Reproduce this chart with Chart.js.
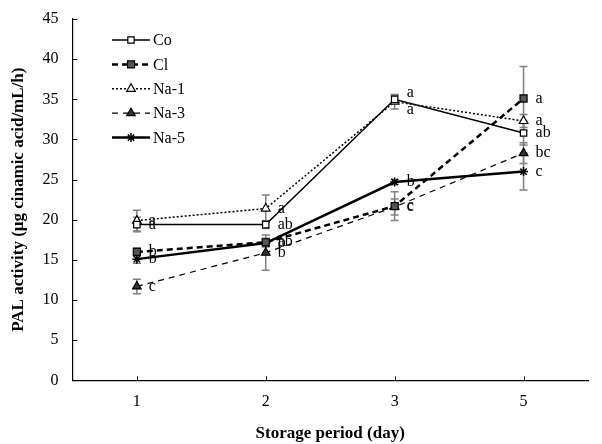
<!DOCTYPE html>
<html>
<head>
<meta charset="utf-8">
<script src="https://cdn.jsdelivr.net/npm/chart.js@4.4.1/dist/chart.umd.min.js"></script>
<style>
  html, body { margin: 0; padding: 0; background: #fff; }
  #wrap { width: 602px; height: 444px; }
</style>
</head>
<body>
<div id="wrap"><canvas id="palChart"></canvas></div>
<script>
// Storage days (categories)
const days = ['1', '2', '3', '5'];

// Mean PAL activity per treatment
const coValues  = [19.4, 19.4, 35.0, 30.8];
const clValues  = [16.0, 17.2, 21.7, 35.1];
const na1Values = [19.9, 21.4, 34.7, 32.3];
const na3Values = [11.7, 15.9, 21.6, 28.3];
const na5Values = [15.1, 17.1, 24.7, 26.0];

// Standard deviations (error bars)
const coErr  = [0.9, 0.5, 0.5, 1.5];
const clErr  = [0.5, 0.5, 1.8, 4.0];
const na1Err = [1.3, 1.7, 0.9, 0.8];
const na3Err = [0.9, 2.2, 1.0, 1.3];
const na5Err = [0.5, 0.5, 0.3, 2.3];

// Significance letters
const coLetters  = ['a', 'ab', 'a', 'ab'];
const clLetters  = ['b', 'ab', 'c', 'a'];
const na1Letters = ['a', 'a', 'a', 'a'];
const na3Letters = ['c', 'b', 'c', 'bc'];
const na5Letters = ['b', 'b', 'b', 'c'];

const yTicks = [0, 5, 10, 15, 20, 25, 30, 35, 40, 45];

const serif = "'Liberation Serif', 'Times New Roman', serif";

// Error bars, letters, inward ticks and legend
const extrasPlugin = {
  id: 'extras',
  beforeDatasetsDraw(chart) {
    const ctx = chart.ctx;
    ctx.save();
    ctx.strokeStyle = '#808080';
    ctx.lineWidth = 1.5;
    chart.data.datasets.forEach((ds, i) => {
      const meta = chart.getDatasetMeta(i);
      meta.data.forEach((pt, j) => {
        const y = chart.scales.y;
        const top = y.getPixelForValue(ds.data[j] + ds.errors[j]);
        const bot = y.getPixelForValue(ds.data[j] - ds.errors[j]);
        ctx.beginPath();
        ctx.moveTo(pt.x, top); ctx.lineTo(pt.x, bot);
        ctx.moveTo(pt.x - 4, top); ctx.lineTo(pt.x + 4, top);
        ctx.moveTo(pt.x - 4, bot); ctx.lineTo(pt.x + 4, bot);
        ctx.stroke();
      });
    });
    ctx.restore();
  },
  afterDatasetsDraw(chart) {
    const ctx = chart.ctx;
    const area = chart.chartArea;
    ctx.save();
    ctx.fillStyle = '#000';
    ctx.font = '16px ' + serif;
    ctx.textAlign = 'left';
    ctx.textBaseline = 'middle';
    chart.data.datasets.forEach((ds, i) => {
      const meta = chart.getDatasetMeta(i);
      meta.data.forEach((pt, j) => {
        const dy = ds.labelDy ? ds.labelDy[j] : 0;
        ctx.fillText(ds.letters[j], pt.x + 12, pt.y + dy);
      });
    });
    // inward tick marks
    ctx.strokeStyle = '#000';
    ctx.lineWidth = 1;
    ctx.beginPath();
    chart.scales.y.ticks.forEach((t, k) => {
      const py = Math.round(chart.scales.y.getPixelForTick(k)) + 0.5;
      ctx.moveTo(area.left, py); ctx.lineTo(area.left + 5, py);
    });
    chart.scales.x.ticks.forEach((t, k) => {
      const px = Math.round(chart.scales.x.getPixelForTick(k)) + 0.5;
      ctx.moveTo(px, area.bottom); ctx.lineTo(px, area.bottom - 4);
    });
    ctx.stroke();

    // legend
    chart.data.datasets.forEach((ds, i) => {
      const ly = 40 + i * 24.4;
      ctx.save();
      ctx.strokeStyle = '#000';
      ctx.lineWidth = ds.borderWidth;
      ctx.setLineDash(ds.borderDash || []);
      ctx.beginPath();
      ctx.moveTo(112, ly); ctx.lineTo(150, ly);
      ctx.stroke();
      ctx.restore();
      ctx.save();
      ctx.fillStyle = ds.pointBackgroundColor;
      ctx.strokeStyle = '#000';
      ctx.lineWidth = ds.pointBorderWidth;
      Chart.helpers.drawPoint(ctx, {
        pointStyle: ds.pointStyle,
        radius: ds.pointRadius,
        borderWidth: ds.pointBorderWidth
      }, 131, ly);
      ctx.restore();
      ctx.fillStyle = '#000';
      ctx.fillText(ds.label, 153, ly + 1);
    });
    ctx.restore();
  }
};

const palData = {
  labels: days,
  datasets: [{
    label: 'Co',
    data: coValues,
    errors: coErr,
    letters: coLetters,
    labelDy: [0, 0, -7, 0],
    borderColor: '#000',
    borderWidth: 1.5,
    pointStyle: 'rect',
    pointRadius: 4.5,
    pointBackgroundColor: '#fff',
    pointBorderColor: '#000',
    pointBorderWidth: 1.2
  }, {
    label: 'Cl',
    data: clValues,
    errors: clErr,
    letters: clLetters,
    borderColor: '#000',
    borderWidth: 2.5,
    borderDash: [6, 4],
    pointStyle: 'rect',
    pointRadius: 5,
    pointBackgroundColor: '#555',
    pointBorderColor: '#000',
    pointBorderWidth: 1.2
  }, {
    label: 'Na-1',
    data: na1Values,
    errors: na1Err,
    letters: na1Letters,
    labelDy: [0, 0, 8, 0],
    borderColor: '#000',
    borderWidth: 1.5,
    borderDash: [2, 2],
    pointStyle: 'triangle',
    pointRadius: 5,
    pointBackgroundColor: '#fff',
    pointBorderColor: '#000',
    pointBorderWidth: 1.2
  }, {
    label: 'Na-3',
    data: na3Values,
    errors: na3Err,
    letters: na3Letters,
    borderColor: '#000',
    borderWidth: 1.2,
    borderDash: [6, 5],
    pointStyle: 'triangle',
    pointRadius: 5,
    pointBackgroundColor: '#333',
    pointBorderColor: '#000',
    pointBorderWidth: 1.2
  }, {
    label: 'Na-5',
    data: na5Values,
    errors: na5Err,
    letters: na5Letters,
    borderColor: '#000',
    borderWidth: 2.5,
    pointStyle: 'star',
    pointRadius: 4.5,
    pointBackgroundColor: '#000',
    pointBorderColor: '#000',
    pointBorderWidth: 1.5
  }]
};

const palConfig = {
  type: 'line',
  data: palData,
  plugins: [extrasPlugin],
  options: {
    responsive: true,
    maintainAspectRatio: false,
    animation: false,
    layout: { padding: { top: 19, right: 14, left: 8, bottom: 0 } },
    plugins: {
      legend: { display: false },
      tooltip: { enabled: false }
    },
    scales: {
      x: {
        offset: true,
        grid: { display: false, drawTicks: false },
        border: { display: true, color: '#000', width: 1.2 },
        ticks: { color: '#000', padding: 12, font: { family: serif, size: 16 } },
        title: {
          display: true,
          text: 'Storage period (day)',
          color: '#000',
          padding: { top: 0, bottom: 0 },
          font: { family: serif, size: 17, weight: 'bold' }
        }
      },
      y: {
        min: 0,
        max: 45,
        afterBuildTicks(axis) { axis.ticks = yTicks.map(v => ({ value: v })); },
        afterFit(axis) { axis.paddingTop = 0; },
        grid: { display: false, drawTicks: false },
        border: { display: true, color: '#000', width: 1.2 },
        ticks: { color: '#000', padding: 14, font: { family: serif, size: 16 } },
        title: {
          display: true,
          text: 'PAL activity (μg cinamic acid/mL/h)',
          color: '#000',
          padding: { top: 0, bottom: 0 },
          font: { family: serif, size: 17, weight: 'bold' }
        }
      }
    }
  }
};

const palChart = new Chart(document.getElementById('palChart'), palConfig);
</script>
</body>
</html>
